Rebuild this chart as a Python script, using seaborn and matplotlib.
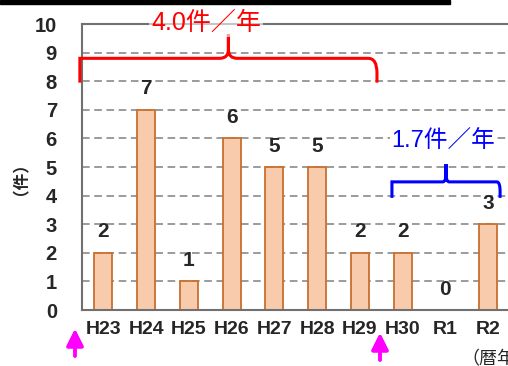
import numpy as np
import pandas as pd
import seaborn as sns
import matplotlib.pyplot as plt
from matplotlib.path import Path
from matplotlib.patches import PathPatch, Rectangle

# データ
years = ["H23", "H24", "H25", "H26", "H27", "H28", "H29", "H30", "R1", "R2"]
counts = [2, 7, 1, 6, 5, 5, 2, 2, 0, 3]
avg_before = "4.0件／年"
avg_after = "1.7件／年"

sns.set_theme(style="white")
plt.rcParams['font.family'] = ['Liberation Sans', 'Noto Sans CJK JP', 'DejaVu Sans']

W, H = 508, 366
fig = plt.figure(figsize=(W / 100, H / 100), dpi=100)
ax = fig.add_axes([82 / W, 1 - 310 / H, 427.5 / W, 286 / H])

df = pd.DataFrame({"年": years, "件数": counts})
sns.barplot(data=df, x="年", y="件数", ax=ax, width=0.42, color="#F8CBAD",
            edgecolor="#C8702E", linewidth=1.3, saturation=1)

ax.set_ylim(0, 10)
ax.set_xlim(-0.5, len(years) - 0.5)
ax.set_yticks(range(0, 11))
ax.yaxis.grid(True, linestyle=(0, (5, 3)), color="#808080", linewidth=1.1)
ax.set_axisbelow(True)
for s in ["left", "bottom", "top"]:
    ax.spines[s].set_color("#707070")
    ax.spines[s].set_linewidth(1.5)
ax.spines["right"].set_visible(False)

ax.tick_params(axis="y", length=0, pad=18, labelsize=14.5)
ax.tick_params(axis="x", which="major", length=0, pad=8, labelsize=14)
ax.set_xticks(np.arange(0.5, len(years) - 0.5), minor=True)
ax.tick_params(axis="x", which="minor", direction="in", length=5, width=1.3, color="#707070")
for lab in ax.get_xticklabels() + ax.get_yticklabels():
    lab.set_fontweight("bold")
ax.set_xlabel("")
ax.set_ylabel("（件）", fontsize=12, fontweight="bold")
ax.yaxis.set_label_coords(-0.145, 0.49)

# 値ラベル
for i, v in enumerate(counts):
    ax.text(i, v + 0.4, str(v), ha="center", va="bottom", fontsize=15, fontweight="bold")


def brace(x0, x1, ytop, yend, ypeak, color):
    xm = (x0 + x1) / 2
    d = (x1 - x0) * 0.03
    h = (ytop - yend) * 0.6
    verts = [(x0, yend), (x0, ytop - h), (x0, ytop), (x0 + d, ytop),
             (xm - d, ytop), (xm, ytop), (xm, ytop + 0.3),
             (xm, ypeak), (xm, ytop + 0.3), (xm, ytop), (xm + d, ytop),
             (x1 - d, ytop), (x1, ytop), (x1, ytop - h), (x1, yend)]
    codes = [Path.MOVETO, Path.CURVE3, Path.CURVE3, Path.LINETO,
             Path.LINETO, Path.CURVE3, Path.CURVE3,
             Path.LINETO, Path.LINETO, Path.CURVE3, Path.CURVE3,
             Path.LINETO, Path.CURVE3, Path.CURVE3, Path.LINETO]
    ax.add_patch(PathPatch(Path(verts, codes), fill=False, edgecolor=color,
                           linewidth=2.2, clip_on=False, zorder=5))


brace(-0.55, 6.4, 8.8, 7.95, 9.65, "red")
brace(6.75, 9.28, 4.48, 3.92, 5.1, "blue")
ax.text(2.4, 10.05, avg_before, color="red", fontsize=18, ha="center", va="center",
        zorder=6, bbox=dict(boxstyle="square,pad=0.1", fc="white", ec="none", alpha=0.6))
ax.text(7.95, 5.87, avg_after, color="blue", fontsize=17, ha="center", va="center",
        bbox=dict(boxstyle="square,pad=0.05", fc="white", ec="none"))

# 矢印
for xp, y0, y1 in [(75, 356, 329), (380, 360, 333)]:
    fig.add_artist(plt.annotate("", xy=(xp / W, 1 - y1 / H), xytext=(xp / W, 1 - y0 / H),
                                xycoords="figure fraction", textcoords="figure fraction",
                                arrowprops=dict(arrowstyle="-|>,head_length=1.0,head_width=0.5",
                                                mutation_scale=10, shrinkA=0, shrinkB=0,
                                                color="#FF00FF", lw=2.5)))

fig.text(461 / W, 1 - 360 / H, "（暦年）", fontsize=13, ha="left", va="center")
fig.add_artist(Rectangle((0, 1 - 4 / H), 450 / W, 4 / H, transform=fig.transFigure,
                         color="black"))

fig.savefig("out.png", dpi=100)
